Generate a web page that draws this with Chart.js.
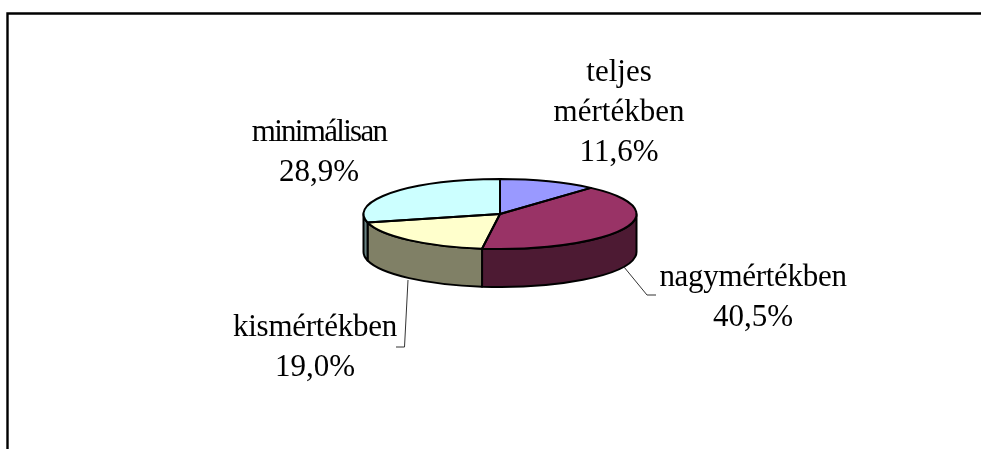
<!DOCTYPE html>
<html><head><meta charset="utf-8">
<style>html,body{margin:0;padding:0;background:#fff}canvas{display:block}#w{width:981px;height:449px}</style>
<script src="https://cdn.jsdelivr.net/npm/chart.js@4"></script>
</head><body><div id="w"><canvas id="c"></canvas></div>
<script>
const categories = ['teljes mértékben','nagymértékben','kismértékben','minimálisan'];
const values = [11.6,40.5,19.0,28.9];
const topColors = ['#9999FF','#993366','#FFFFCC','#CCFFFF'];
const sideColors = ['#666699','#4D1A33','#808066','#668080'];
const labelLines = [['teljes','mértékben'],['nagymértékben'],['kismértékben'],['minimálisan']];
const labelAnchors = [[619,81],[753,286],[315,336],[319,141]];
const labelTracking = [[0,0],[-0.3],[-0.25],[-1.7]];
const CX=500, CY=214, R=136.5, SQUASH=35/136.5, DEPTH=38, FONT='31px "Liberation Serif"', LH=40;
const fmt=v=>v.toFixed(1).replace('.',',')+'%';

const pie3d={id:'pie3d',
 beforeDatasetsDraw(chart){
  const ctx=chart.ctx, arcs=chart.getDatasetMeta(0).data;
  const cx=arcs[0].x, cy=arcs[0].y, r=arcs[0].outerRadius, ry=r*SQUASH;
  arcs.forEach((a,i)=>{
    const s=Math.max(a.startAngle,0), e=Math.min(a.endAngle,Math.PI);
    if(e<=s) return;
    ctx.save();
    ctx.beginPath();
    ctx.ellipse(cx,cy,r,ry,0,s,e,false);
    ctx.lineTo(cx+r*Math.cos(e),cy+ry*Math.sin(e)+DEPTH);
    ctx.ellipse(cx,cy+DEPTH,r,ry,0,e,s,true);
    ctx.closePath();
    ctx.fillStyle=sideColors[i]; ctx.fill();
    ctx.strokeStyle='#000'; ctx.lineWidth=2; ctx.lineJoin='round'; ctx.stroke();
    ctx.restore();
  });
  ctx.save();
  ctx.translate(0,cy); ctx.scale(1,SQUASH); ctx.translate(0,-cy);
 },
 afterDatasetsDraw(chart){
  const ctx=chart.ctx, arcs=chart.getDatasetMeta(0).data;
  ctx.restore();
  const cx=arcs[0].x, cy=arcs[0].y, r=arcs[0].outerRadius, ry=r*SQUASH;
  ctx.save();
  ctx.strokeStyle='#000'; ctx.lineWidth=2; ctx.lineJoin='round';
  arcs.forEach(a=>{
    ctx.beginPath(); ctx.moveTo(cx,cy);
    ctx.ellipse(cx,cy,r,ry,0,a.startAngle,a.endAngle,false);
    ctx.closePath(); ctx.stroke();
  });
  ctx.restore();
  // frame: top and left edges only
  ctx.save(); ctx.strokeStyle='#000'; ctx.lineWidth=2.4;
  ctx.beginPath(); ctx.moveTo(7.5,449); ctx.lineTo(7.5,13.5); ctx.lineTo(981,13.5); ctx.stroke(); ctx.restore();
  // leaders
  ctx.save(); ctx.strokeStyle='#333'; ctx.lineWidth=1;
  ctx.beginPath(); ctx.moveTo(408,280); ctx.lineTo(404.5,347); ctx.lineTo(396,347);
  ctx.moveTo(624,267); ctx.lineTo(647,295); ctx.lineTo(656,295); ctx.stroke(); ctx.restore();
  // labels
  ctx.save(); ctx.fillStyle='#000'; ctx.font=FONT; ctx.textAlign='center'; ctx.textBaseline='alphabetic';
  labelLines.forEach((lines,i)=>{
    const [x,y]=labelAnchors[i];
    lines.concat(fmt(values[i])).forEach((t,j)=>{
      ctx.letterSpacing=(labelTracking[i][j]||0)+'px';
      ctx.fillText(t,x,y+j*LH);
    });
  });
  ctx.restore();
 }};

new Chart(document.getElementById('c'),{
 type:'pie',
 data:{labels:categories,datasets:[{data:values,backgroundColor:topColors,borderWidth:0,hoverOffset:0,offset:0}]},
 options:{responsive:true,maintainAspectRatio:false,animation:false,events:[],
  layout:{padding:{left:CX-R,right:981-CX-R,top:CY-R,bottom:449-CY-R}},
  plugins:{legend:{display:false},tooltip:{enabled:false},title:{display:false}}},
 plugins:[pie3d]
});
</script></body></html>
